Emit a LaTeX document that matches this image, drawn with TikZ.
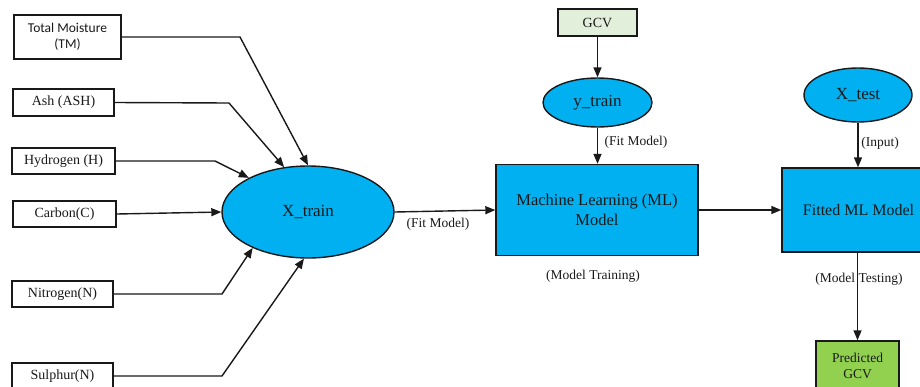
\documentclass[tikz,border=0pt]{standalone}
\usepackage{fontspec}
\setmainfont{Liberation Serif}
\newfontfamily\boxsans{Carlito}
\usetikzlibrary{shapes.geometric,arrows.meta}
\definecolor{skyb}{RGB}{0,176,240}
\definecolor{gcvg}{RGB}{226,239,218}
\definecolor{predg}{RGB}{146,208,80}
\definecolor{inkc}{RGB}{25,25,25}
\tikzset{
  inbox/.style={draw=inkc, line width=1.4pt, fill=white, inner sep=0pt, align=center,
    font=\fontsize{14}{16}\selectfont, text=inkc},
  blueell/.style={ellipse, draw=inkc, line width=1.4pt, fill=skyb, inner sep=0pt,
    font=\fontsize{17}{19}\selectfont, text=inkc},
  bluebox/.style={draw=inkc, line width=1.4pt, fill=skyb, inner sep=0pt, align=center,
    font=\fontsize{16.5}{20}\selectfont, text=inkc},
  conn/.style={draw=inkc, line width=1.4pt, -{Triangle[length=10pt,width=8pt]}},
  lbl/.style={font=\fontsize{13.5}{15}\selectfont, text=inkc, inner sep=0pt}
}
\begin{document}
\begin{tikzpicture}[x=1pt,y=-1pt]
\useasboundingbox (0,0) rectangle (920,386);
\clip (0,0) rectangle (920,386);
% input boxes
\node[inbox, minimum width=107pt, minimum height=44pt, font=\boxsans\fontsize{13.5}{16}\selectfont] (tm) at (67.5,37) {Total Moisture\\(TM)};
\node[inbox, minimum width=101pt, minimum height=27pt] (ash) at (63.5,102.5) {Ash (ASH)};
\node[inbox, minimum width=103pt, minimum height=26pt] (hyd) at (63.5,161) {Hydrogen (H)};
\node[inbox, minimum width=103pt, minimum height=26pt] (carb) at (64.5,214) {Carbon(C)};
\node[inbox, minimum width=101pt, minimum height=26pt] (nitro) at (62.5,294) {Nitrogen(N)};
\node[inbox, minimum width=101pt, minimum height=26pt] (sulph) at (62.5,376) {Sulphur(N)};
% ellipses
\node[blueell, minimum width=172pt, minimum height=92pt] (xtrain) at (308,212) {X\_train};
\node[blueell, minimum width=109pt, minimum height=49pt] (ytrain) at (597.5,102.5) {y\_train};
\node[blueell, minimum width=108pt, minimum height=54pt] (xtest) at (858,95) {X\_test};
% main boxes
\node[bluebox, minimum width=202pt, minimum height=91pt] (ml) at (597,210) {Machine Learning (ML)\\Model};
\node[bluebox, minimum width=153pt, minimum height=84pt, font=\fontsize{16}{19}\selectfont] (fit) at (858.5,210) {Fitted ML Model};
\node[inbox, fill=gcvg, minimum width=79pt, minimum height=27pt] (gcv) at (597.5,22.5) {GCV};
\node[inbox, fill=predg, minimum width=83pt, minimum height=50pt, font=\fontsize{13.5}{16}\selectfont] (pred) at (857.5,366) {Predicted\\GCV};
% labels
\node[lbl] (l1) at (438,224) {(Fit Model)};
\node[lbl] (l2) at (636,142) {(Fit Model)};
\node[lbl] (l3) at (593,276) {(Model Training)};
\node[lbl] (l4) at (880,143) {(Input)};
\node[lbl] (l5) at (859,279) {(Model Testing)};
% connectors
\coordinate (tmk) at (240,37);
\coordinate (ashk) at (229,103);
\coordinate (hydk) at (215,161);
\coordinate (nitk) at (222,294);
\coordinate (sulk) at (222,376);
\draw[conn] (tm.east) -- (tmk) -- (xtrain.north);
\draw[conn] (ash.east) -- (ashk) -- (xtrain.118);
\draw[conn] (hyd.east) -- (hydk) -- (xtrain.150);
\draw[conn] (carb.east) -- (xtrain.west);
\draw[conn] (nitro.east) -- (nitk) -- (xtrain.213);
\draw[conn] (sulph.east) -- (sulk) -- (xtrain.265);
\draw[conn] (xtrain.east) -- (ml.west);
\draw[conn] (gcv.south) -- (ytrain.north);
\draw[conn] (ytrain.south) -- (ml.north -| ytrain.south);
\draw[conn] (ml.east) -- (fit.west |- ml.east);
\draw[conn] (xtest.south) -- (fit.north -| xtest.south);
\draw[conn] (fit.south -| pred.north) -- (pred.north);
\end{tikzpicture}
\end{document}
